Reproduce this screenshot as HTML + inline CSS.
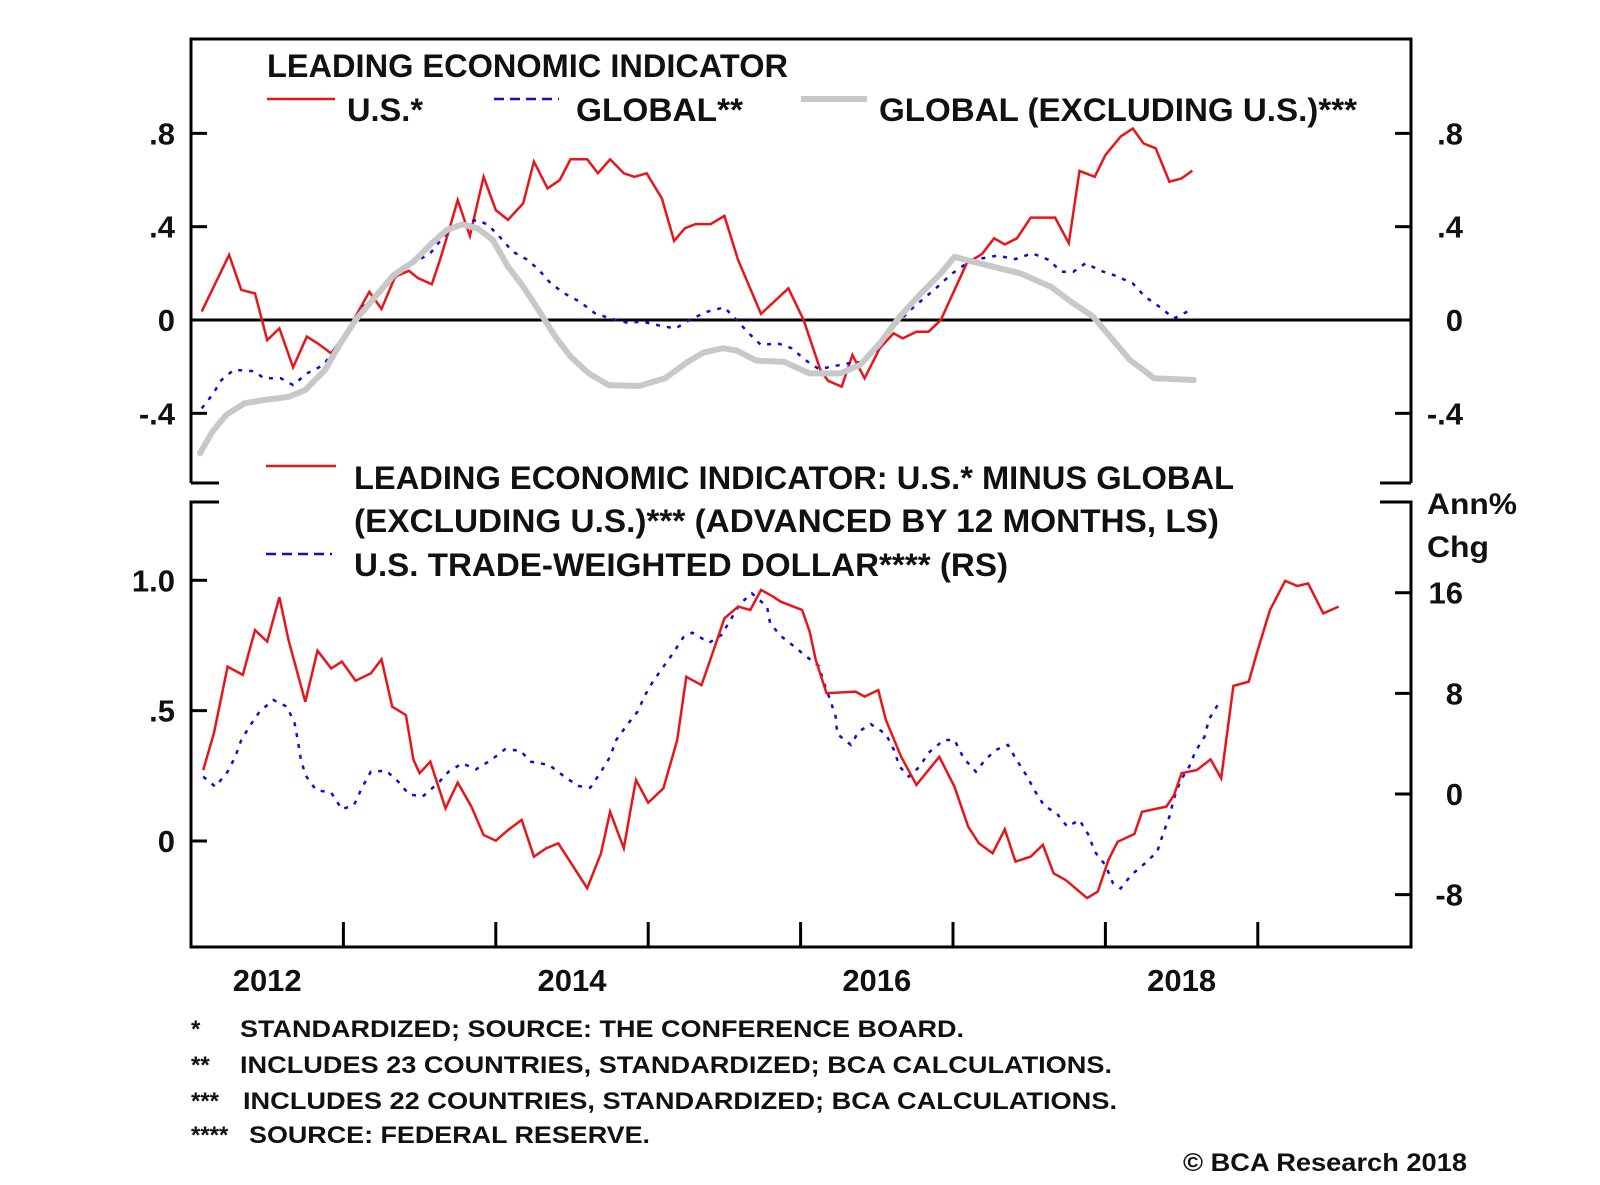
<!DOCTYPE html>
<html><head><meta charset="utf-8"><style>
html,body{margin:0;padding:0;background:#fff;width:1600px;height:1185px;overflow:hidden}
svg{display:block}
text{font-family:"Liberation Sans",Arial,sans-serif;font-weight:bold;fill:#111}
</style></head><body>
<svg id="chart" width="1600" height="1185" viewBox="0 0 1600 1185" xmlns="http://www.w3.org/2000/svg">
<g id="frame" stroke="#000" stroke-width="3" fill="none">
  <path d="M191,483 L191,39 L1411,39 L1411,483"/>
  <path d="M191,483 L219,483 M1380,483 L1411,483"/>
  <path d="M219,502 L191,502 L191,947 L1411,947 L1411,502 L1380,502"/>
</g>
<g id="ticks" stroke="#000" stroke-width="3"></g>
<g id="labels"></g>
<line x1="191" y1="320" x2="1411" y2="320" stroke="#000" stroke-width="3"/>
<g id="series"></g>

<g>
  <text x="267" y="77" font-size="32" textLength="521" lengthAdjust="spacingAndGlyphs">LEADING ECONOMIC INDICATOR</text>
  <line x1="267" y1="99" x2="335" y2="99" stroke="#e8161b" stroke-width="2.5"/>
  <text x="347" y="121" font-size="32" textLength="76" lengthAdjust="spacingAndGlyphs">U.S.*</text>
  <line x1="494" y1="99" x2="559" y2="99" stroke="#1010c8" stroke-width="2.5" stroke-dasharray="10 6"/>
  <text x="576" y="121" font-size="32" textLength="167" lengthAdjust="spacingAndGlyphs">GLOBAL**</text>
  <line x1="801" y1="99" x2="867" y2="99" stroke="#c8c8c8" stroke-width="6"/>
  <text x="879" y="121" font-size="32" textLength="478" lengthAdjust="spacingAndGlyphs">GLOBAL (EXCLUDING U.S.)***</text>
</g>
<g>
  <line x1="266" y1="466" x2="336" y2="466" stroke="#e8161b" stroke-width="2.5"/>
  <text x="354" y="489" font-size="32" textLength="880" lengthAdjust="spacingAndGlyphs">LEADING ECONOMIC INDICATOR: U.S.* MINUS GLOBAL</text>
  <text x="354" y="532" font-size="32" textLength="865" lengthAdjust="spacingAndGlyphs">(EXCLUDING U.S.)*** (ADVANCED BY 12 MONTHS, LS)</text>
  <line x1="266" y1="554" x2="332" y2="554" stroke="#1010c8" stroke-width="2.5" stroke-dasharray="10 6"/>
  <text x="354" y="576" font-size="32" textLength="654" lengthAdjust="spacingAndGlyphs">U.S. TRADE-WEIGHTED DOLLAR**** (RS)</text>
</g>
<text x="1427" y="514" font-size="30" textLength="90" lengthAdjust="spacingAndGlyphs">Ann%</text>
<text x="1427" y="557" font-size="30" textLength="62" lengthAdjust="spacingAndGlyphs">Chg</text>

<g font-size="24">
  <text x="191" y="1037">*</text>
  <text x="240" y="1037" textLength="724" lengthAdjust="spacingAndGlyphs">STANDARDIZED; SOURCE: THE CONFERENCE BOARD.</text>
  <text x="191" y="1073">**</text>
  <text x="240" y="1073" textLength="872" lengthAdjust="spacingAndGlyphs">INCLUDES 23 COUNTRIES, STANDARDIZED; BCA CALCULATIONS.</text>
  <text x="191" y="1109">***</text>
  <text x="243" y="1109" textLength="874" lengthAdjust="spacingAndGlyphs">INCLUDES 22 COUNTRIES, STANDARDIZED; BCA CALCULATIONS.</text>
  <text x="191" y="1143">****</text>
  <text x="249" y="1143" textLength="401" lengthAdjust="spacingAndGlyphs">SOURCE: FEDERAL RESERVE.</text>
  <text x="1183" y="1171" font-size="25" textLength="284" lengthAdjust="spacingAndGlyphs">© BCA Research 2018</text>
</g>
</svg>
<script>
// ---- data (dates as decimal years) ----
const usX=[2012.07,2012.25,2012.33,2012.42,2012.5,2012.58,2012.67,2012.76,2012.83,2012.92,2013.03,2013.17,2013.25,2013.34,2013.43,2013.49,2013.58,2013.63,2013.69,2013.75,2013.83,2013.92,2014.0,2014.08,2014.18,2014.25,2014.34,2014.42,2014.49,2014.6,2014.67,2014.75,2014.84,2014.91,2014.99,2015.09,2015.17,2015.24,2015.31,2015.41,2015.5,2015.59,2015.74,2015.92,2016.02,2016.13,2016.18,2016.27,2016.34,2016.42,2016.52,2016.61,2016.67,2016.76,2016.84,2016.92,2017.09,2017.19,2017.27,2017.34,2017.42,2017.51,2017.67,2017.76,2017.83,2017.93,2018.0,2018.1,2018.18,2018.25,2018.33,2018.42,2018.5,2018.57];
const usY=[0.036,0.279,0.129,0.114,-0.086,-0.036,-0.203,-0.071,-0.1,-0.143,-0.043,0.121,0.047,0.186,0.211,0.179,0.153,0.25,0.379,0.514,0.36,0.614,0.471,0.429,0.5,0.679,0.564,0.6,0.689,0.689,0.629,0.689,0.629,0.614,0.629,0.521,0.339,0.393,0.411,0.411,0.446,0.257,0.026,0.136,0,-0.214,-0.26,-0.286,-0.15,-0.25,-0.121,-0.057,-0.079,-0.05,-0.05,0,0.243,0.283,0.35,0.324,0.35,0.439,0.439,0.329,0.639,0.614,0.707,0.786,0.821,0.757,0.736,0.593,0.607,0.64];
const glX=[2012.07,2012.14,2012.2,2012.28,2012.41,2012.48,2012.59,2012.67,2012.76,2012.87,2013.03,2013.13,2013.23,2013.38,2013.57,2013.64,2013.73,2013.88,2013.95,2014.03,2014.11,2014.2,2014.28,2014.36,2014.45,2014.55,2014.65,2014.75,2014.86,2014.96,2015.09,2015.18,2015.28,2015.39,2015.5,2015.59,2015.66,2015.74,2015.85,2015.94,2016.03,2016.12,2016.31,2016.41,2016.52,2016.61,2016.72,2016.81,2016.9,2016.99,2017.09,2017.19,2017.29,2017.41,2017.52,2017.63,2017.71,2017.79,2017.87,2017.97,2018.07,2018.18,2018.26,2018.36,2018.45,2018.57];
const glY=[-0.379,-0.321,-0.257,-0.214,-0.219,-0.25,-0.25,-0.279,-0.229,-0.193,-0.043,0.057,0.107,0.214,0.286,0.343,0.407,0.429,0.407,0.353,0.293,0.261,0.217,0.157,0.114,0.079,0.029,0.007,-0.011,-0.007,-0.026,-0.036,0.004,0.036,0.054,-0.007,-0.057,-0.107,-0.1,-0.121,-0.171,-0.211,-0.186,-0.179,-0.117,-0.029,0.043,0.093,0.143,0.197,0.243,0.264,0.276,0.261,0.286,0.257,0.207,0.207,0.243,0.211,0.189,0.157,0.1,0.054,0.007,0.047];
const exX=[2012.06,2012.14,2012.23,2012.35,2012.48,2012.64,2012.75,2012.88,2012.98,2013.08,2013.2,2013.33,2013.46,2013.58,2013.68,2013.78,2013.88,2013.98,2014.08,2014.18,2014.28,2014.39,2014.49,2014.61,2014.74,2014.94,2015.11,2015.26,2015.36,2015.49,2015.58,2015.71,2015.89,2016.06,2016.26,2016.39,2016.52,2016.65,2016.78,2016.92,2017.01,2017.13,2017.31,2017.44,2017.64,2017.79,2017.92,2018.03,2018.16,2018.32,2018.58];
const exY=[-0.571,-0.479,-0.407,-0.357,-0.343,-0.329,-0.3,-0.214,-0.1,0,0.093,0.193,0.25,0.329,0.386,0.41,0.393,0.343,0.229,0.143,0.043,-0.071,-0.157,-0.229,-0.279,-0.283,-0.25,-0.179,-0.14,-0.121,-0.131,-0.174,-0.179,-0.229,-0.229,-0.193,-0.1,0.014,0.107,0.2,0.271,0.25,0.221,0.2,0.143,0.071,0.014,-0.071,-0.171,-0.25,-0.257];
const spX=[2012.08,2012.15,2012.24,2012.34,2012.42,2012.5,2012.58,2012.64,2012.75,2012.83,2012.92,2012.99,2013.08,2013.18,2013.25,2013.32,2013.41,2013.46,2013.5,2013.57,2013.67,2013.75,2013.84,2013.92,2014.0,2014.08,2014.17,2014.25,2014.33,2014.41,2014.6,2014.69,2014.75,2014.84,2014.89,2014.92,2015.0,2015.1,2015.19,2015.25,2015.35,2015.43,2015.5,2015.59,2015.67,2015.74,2015.82,2015.87,2016.01,2016.06,2016.1,2016.17,2016.36,2016.42,2016.51,2016.56,2016.66,2016.76,2016.91,2017.01,2017.1,2017.17,2017.26,2017.34,2017.41,2017.51,2017.59,2017.66,2017.74,2017.88,2017.95,2018.02,2018.08,2018.19,2018.24,2018.4,2018.45,2018.5,2018.6,2018.69,2018.76,2018.79,2018.84,2018.94,2019.0,2019.08,2019.18,2019.26,2019.33,2019.43,2019.53];
const spY=[0.272,0.413,0.669,0.637,0.809,0.765,0.935,0.771,0.534,0.73,0.662,0.688,0.615,0.643,0.697,0.515,0.483,0.311,0.26,0.304,0.125,0.224,0.132,0.023,0.001,0.042,0.081,-0.06,-0.028,-0.009,-0.181,-0.047,0.112,-0.028,0.138,0.234,0.147,0.202,0.387,0.63,0.598,0.733,0.854,0.899,0.886,0.963,0.937,0.918,0.886,0.803,0.694,0.567,0.573,0.554,0.579,0.464,0.323,0.215,0.323,0.208,0.055,-0.009,-0.047,0.045,-0.079,-0.06,-0.015,-0.124,-0.15,-0.219,-0.194,-0.073,-0.003,0.027,0.112,0.132,0.176,0.26,0.272,0.313,0.24,0.375,0.595,0.611,0.733,0.886,0.998,0.978,0.988,0.873,0.899];
const dlX=[2012.08,2012.16,2012.24,2012.29,2012.33,2012.39,2012.45,2012.54,2012.63,2012.68,2012.7,2012.72,2012.75,2012.82,2012.92,2012.99,2013.07,2013.12,2013.18,2013.28,2013.36,2013.43,2013.52,2013.62,2013.69,2013.78,2013.87,2013.97,2014.06,2014.16,2014.23,2014.35,2014.45,2014.54,2014.62,2014.69,2014.75,2014.79,2014.86,2014.93,2014.98,2015.03,2015.1,2015.17,2015.23,2015.29,2015.4,2015.48,2015.54,2015.6,2015.68,2015.78,2015.8,2015.87,2015.96,2016.04,2016.12,2016.15,2016.19,2016.23,2016.24,2016.33,2016.38,2016.46,2016.56,2016.61,2016.65,2016.71,2016.78,2016.84,2016.94,2017.01,2017.07,2017.15,2017.21,2017.28,2017.36,2017.42,2017.48,2017.54,2017.6,2017.68,2017.75,2017.83,2017.89,2017.93,2018.0,2018.05,2018.1,2018.17,2018.26,2018.34,2018.38,2018.42,2018.45,2018.49,2018.55,2018.59,2018.65,2018.68,2018.75];
const dlY=[1.38,0.58,1.77,2.96,4.29,5.48,6.54,7.47,6.94,5.62,4.29,2.84,1.51,0.32,0.1,-1.22,-0.87,0.45,1.77,1.85,0.98,-0.02,-0.21,0.85,1.77,2.44,1.96,2.7,3.55,3.44,2.57,2.31,1.38,0.64,0.5,1.77,2.96,4.29,5.48,6.54,7.87,8.93,10.12,11.31,12.46,12.82,12.03,12.64,13.83,15.08,15.95,14.89,13.57,12.56,11.71,10.91,10.17,8.93,7.61,6.14,4.77,3.9,4.95,5.56,4.77,3.55,2.17,1.38,2.17,3.28,4.29,4.29,2.84,1.77,2.7,3.5,3.9,2.65,1.51,0.18,-0.95,-1.53,-2.6,-2.07,-3.26,-4.59,-5.64,-7.1,-7.5,-6.44,-5.51,-4.59,-3.12,-1.8,-0.34,0.98,2.17,3.36,4.55,5.94,7.34];
const topTicks=[0.8,0.4,0,-0.4];
const topTickLabels=[".8",".4","0","-.4"];
const leftTicks=[1.0,0.5,0];
const leftTickLabels=["1.0",".5","0"];
const rightTicks=[16,8,0,-8];
const rightTickLabels=["16","8","0","-8"];
const years=[2012,2013,2014,2015,2016,2017,2018,2019];
const yearLabels=["2012","","2014","","2016","","2018",""];

// ---- scales ----
const X0=191, YEARW=152.4;
const xS=t=>X0+(t-2012)*YEARW;
const yTop=v=>320-v*233.3;
const yLeft=v=>841-v*260.7;
const yRight=v=>794-v*12.58;
const NS='http://www.w3.org/2000/svg';
function mk(tag,attrs,parent){const e=document.createElementNS(NS,tag);for(const k in attrs)e.setAttribute(k,attrs[k]);parent.appendChild(e);return e;}
const ticks=document.getElementById('ticks'), labels=document.getElementById('labels'), series=document.getElementById('series');

topTicks.forEach((v,i)=>{
  const y=yTop(v);
  const a=mk('line',{x1:191,x2:207,y1:y,y2:y},ticks);
  
  
  const b=mk('line',{x1:1395,x2:1411,y1:y,y2:y},ticks);
  
  
  const t1=mk('text',{x:175,y:y+11,'font-size':31,'text-anchor':'end'},labels);t1.textContent=topTickLabels[i];
  
  
  const t2=mk('text',{x:1463,y:y+11,'font-size':31,'text-anchor':'end'},labels);t2.textContent=topTickLabels[i];
  
  
});
leftTicks.forEach((v,i)=>{
  const y=yLeft(v);
  const a=mk('line',{x1:191,x2:207,y1:y,y2:y},ticks);
  
  
  const t=mk('text',{x:175,y:y+11,'font-size':31,'text-anchor':'end'},labels);t.textContent=leftTickLabels[i];
  
  
});
rightTicks.forEach((v,i)=>{
  const y=yRight(v);
  const a=mk('line',{x1:1395,x2:1411,y1:y,y2:y},ticks);
  
  
  const t=mk('text',{x:1463,y:y+11,'font-size':31,'text-anchor':'end'},labels);t.textContent=rightTickLabels[i];
  
  
});
years.forEach((yr,i)=>{
  if(i>0){
    const a=mk('line',{x1:xS(yr),x2:xS(yr),y1:922,y2:947},ticks);
    
    
  }
  if(yearLabels[i]){
    const t=mk('text',{x:xS(yr+0.5),y:991,'font-size':31,'text-anchor':'middle'},labels);t.textContent=yearLabels[i];
    
    
  }
});
function path(xs,ys,yf){return xs.map((t,i)=>(i?'L':'M')+xS(t).toFixed(1)+','+yf(ys[i]).toFixed(1)).join(' ');}
const p1=mk('path',{d:path(usX,usY,yTop),fill:'none',stroke:'#e8161b','stroke-width':2.5,'stroke-linejoin':'miter'},series);


const p2=mk('path',{d:path(glX,glY,yTop),fill:'none',stroke:'#1010c8','stroke-width':2.5,'stroke-dasharray':'4 7'},series);


const p3=mk('path',{d:path(exX,exY,yTop),fill:'none',stroke:'#c8c8c8','stroke-width':6,'stroke-linejoin':'round','stroke-linecap':'round'},series);


const p4=mk('path',{d:path(dlX,dlY,yRight),fill:'none',stroke:'#1010c8','stroke-width':2.5,'stroke-dasharray':'4 7'},series);


const p5=mk('path',{d:path(spX,spY,yLeft),fill:'none',stroke:'#e8161b','stroke-width':2.5},series);


</script>
</body></html>
